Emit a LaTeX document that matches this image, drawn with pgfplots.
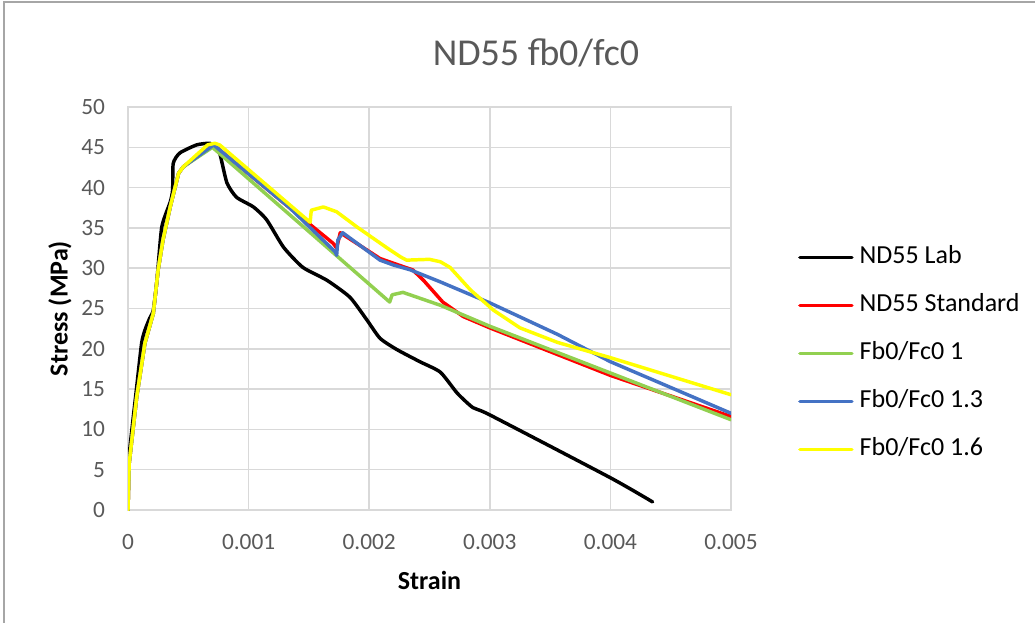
\documentclass[border=0pt]{standalone}
\usepackage{pgfplots}
\pgfplotsset{compat=1.18}
\usepackage{fontspec}
\setmainfont{Carlito}
\definecolor{gridc}{HTML}{D9D9D9}
\definecolor{tickc}{HTML}{595959}
\definecolor{cgreen}{HTML}{92D050}
\definecolor{cblue}{HTML}{4472C4}
\definecolor{cyellow}{HTML}{FFFF00}
\definecolor{cred}{HTML}{FF0000}
\definecolor{framec}{HTML}{A6A6A6}
\begin{document}
\begin{tikzpicture}
\path[use as bounding box] (0pt,0pt) rectangle (776.25pt,466.5pt);
\draw[framec, line width=0.9pt] (3pt,-1pt) -- (3pt,465pt) -- (777pt,465pt);
\node[anchor=base, text=tickc, font=\fontsize{28.5}{34}\selectfont] at (402pt,417pt) {ND55 fb0/fc0};
\begin{axis}[
  at={(96pt,84pt)}, anchor=south west,
  scale only axis, width=452.25pt, height=302.25pt,
  xmin=0, xmax=0.005, ymin=0, ymax=50,
  xtick={0,0.001,0.002,0.003,0.004,0.005},
  ytick={0,5,10,15,20,25,30,35,40,45,50},
  scaled x ticks=false,
  xticklabel style={/pgf/number format/fixed, /pgf/number format/precision=3},
  /pgf/number format/assume math mode=true,
  grid=major,
  major grid style={gridc, line width=1.1pt},
  axis line style={gridc, line width=1.1pt},
  major tick length=0pt,
  tick label style={text=tickc, font=\fontsize{17.5}{21}\selectfont},
  yticklabel style={anchor=east, inner sep=0pt, xshift=-17pt},
  xticklabel style={anchor=north, inner sep=0pt, yshift=-18pt},
  xlabel={\textbf{Strain}},
  ylabel={\textbf{Stress (MPa)}},
  label style={font=\fontsize{19.5}{23}\selectfont},
  xlabel style={at={(axis description cs:0.5,-0.176)}, anchor=center, inner sep=0pt},
  ylabel style={at={(axis description cs:-0.113,0.5)}, anchor=center, rotate=0, inner sep=0pt},
  legend style={at={(axis description cs:1.111,0.388)}, anchor=west, draw=none, fill=none,
    inner sep=0pt, row sep=19pt, column sep=4.5pt,
    font=\fontsize{19.5}{23}\selectfont,
    nodes={inner sep=0pt, text height=13pt, text depth=4pt}},
  legend cell align=left,
  legend image code/.code={\draw[#1] (0pt,0pt) -- (39pt,0pt);},
  every axis plot/.append style={line width=2.6pt, line join=round, line cap=round},
]
\addplot[black, smooth, tension=0.35] coordinates {
(0,0) (0.000005,6) (0.00007,15) (0.000113,20.7) (0.00014,22.3) (0.00018,23.8) (0.00021,24.8)
(0.00024,28.5) (0.00028,35.1) (0.00035,38.2) (0.00037,39.7) (0.000375,43) (0.00043,44.3)
(0.00057,45.3) (0.00068,45.5) (0.00072,45.0) (0.00076,44.3) (0.00082,40.6) (0.0009,38.8)
(0.00104,37.6) (0.00115,36) (0.00129,32.6) (0.00145,30.1) (0.00165,28.5) (0.00184,26.4)
(0.00198,23.6) (0.00209,21.3) (0.00223,19.9) (0.00242,18.4) (0.00259,17.1) (0.00273,14.5)
(0.00286,12.7) (0.0030,11.8) (0.004,4.0) (0.00435,1.0)
};
\addlegendentry{ND55 Lab}
\addplot[cred] coordinates {
(0,0) (0.00001,5.8) (0.000072,14) (0.00014,20.7) (0.00021,24.4) (0.00025,29.8) (0.00029,33.5)
(0.00035,37.6) (0.00042,41.8) (0.00046,42.6) (0.00071,45.3) (0.00134,37.5) (0.0017,33.1)
(0.00173,32.5) (0.00176,34.4) (0.00209,31.2) (0.00228,30.2) (0.00236,29.8) (0.00245,28.5)
(0.00261,25.8) (0.00278,24.0) (0.003,22.6) (0.004,16.7) (0.005,11.6)
};
\addlegendentry{ND55 Standard}
\addplot[cgreen] coordinates {
(0,0) (0.00001,5.8) (0.000072,14) (0.00014,20.7) (0.00021,24.4) (0.00025,29.8) (0.00029,33.5)
(0.00035,37.6) (0.00042,41.8) (0.00046,42.6) (0.0007,45.0) (0.00217,25.8) (0.00219,26.7)
(0.00228,27.0) (0.00259,25.4) (0.003,22.8) (0.004,17.0) (0.005,11.2)
};
\addlegendentry{Fb0/Fc0 1}
\addplot[cblue] coordinates {
(0,0) (0.00001,5.8) (0.000072,14) (0.00014,20.7) (0.00021,24.4) (0.00025,29.8) (0.00029,33.5)
(0.00035,37.6) (0.00042,41.8) (0.00046,42.6) (0.00071,45.3) (0.00134,37.5) (0.00172,32.0)
(0.00173,31.6) (0.00174,33.5) (0.00178,34.4) (0.00209,31.0) (0.0022,30.4) (0.00234,29.8)
(0.00259,28.3) (0.003,25.7) (0.00356,21.8) (0.004,18.4) (0.005,12.0)
};
\addlegendentry{Fb0/Fc0 1.3}
\addplot[cyellow] coordinates {
(0,0) (0.00001,5.8) (0.000072,14) (0.00014,20.7) (0.00021,24.4) (0.00025,29.8) (0.00029,33.5)
(0.00035,37.6) (0.00042,41.8) (0.00046,42.6) (0.00066,45.3) (0.00072,45.5) (0.00076,45.3)
(0.00151,35.7) (0.00152,37.2) (0.00162,37.6) (0.00173,37.0) (0.0019,35.1) (0.00214,32.6)
(0.00226,31.4) (0.00231,31.0) (0.0025,31.1) (0.00259,30.8) (0.00267,30.1) (0.00284,27.3)
(0.00303,24.8) (0.00325,22.6) (0.00356,20.8) (0.004,18.9) (0.005,14.3)
};
\addlegendentry{Fb0/Fc0 1.6}
\end{axis}
\end{tikzpicture}
\end{document}
